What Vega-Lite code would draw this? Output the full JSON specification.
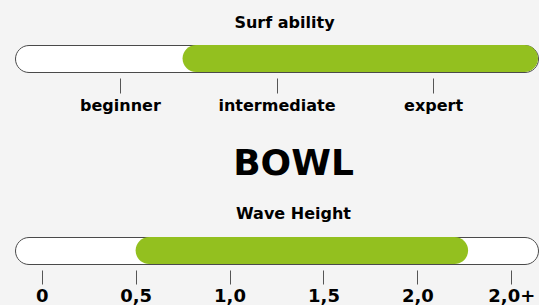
{
  "$schema": "https://vega.github.io/schema/vega-lite/v6.json",
  "background": "#f4f4f4",
  "padding": {"left": 14, "right": 0, "top": 14, "bottom": 0},
  "config": {
    "font": "DejaVu Sans",
    "view": {"fill": "white", "stroke": "#4a4a4a", "strokeWidth": 1, "cornerRadius": 13.5},
    "axis": {"domain": false, "grid": false, "tickColor": "#555", "tickWidth": 1, "labelFont": "DejaVu Sans", "labelFontWeight": "bold", "labelColor": "#000", "labelFontSize": 16, "title": null},
    "title": {"font": "DejaVu Sans", "fontWeight": "bold", "color": "#000", "anchor": "middle"}
  },
  "spacing": 31,
  "vconcat": [
    {
      "width": 523,
      "height": 27,
      "title": {"text": "Surf ability", "fontSize": 16, "offset": 14, "dx": 8},
      "data": {"values": [{"low": 0.4, "high": 2.67}]},
      "mark": {"type": "bar", "color": "#93c01f", "cornerRadius": 13.5},
      "encoding": {
        "x": {"field": "low", "type": "quantitative", "scale": {"domain": [-0.67, 2.67], "nice": false, "zero": false},
          "axis": {"values": [0, 1, 2], "labelExpr": "['beginner','intermediate','expert'][datum.value]", "tickSize": 15, "offset": 6, "labelPadding": 4}},
        "x2": {"field": "high"},
        "y": {"value": 0},
        "y2": {"value": "height"}
      }
    },
    {
      "width": 523,
      "height": 27,
      "title": {"text": "BOWL", "subtitle": "Wave Height", "fontSize": 36, "fontWeight": "bold", "subtitleFont": "DejaVu Sans", "subtitleFontSize": 16, "subtitleFontWeight": "bold", "subtitleColor": "#000", "subtitlePadding": 23, "offset": 14, "dx": 17},
      "data": {"values": [{"low": 0.5, "high": 2.27}]},
      "mark": {"type": "bar", "color": "#93c01f", "cornerRadius": 13.5},
      "encoding": {
        "x": {"field": "low", "type": "quantitative", "scale": {"domain": [-0.142, 2.642], "nice": false, "zero": false},
          "axis": {"values": [0, 0.5, 1, 1.5, 2, 2.5], "labelExpr": "datum.value == 0 ? '0' : datum.value == 2.5 ? '2,0+' : replace(format(datum.value, '.1f'), '.', ',')", "tickSize": 14, "offset": 6, "labelPadding": 3, "labelFontSize": 18}},
        "x2": {"field": "high"},
        "y": {"value": 0},
        "y2": {"value": "height"}
      }
    }
  ]
}
